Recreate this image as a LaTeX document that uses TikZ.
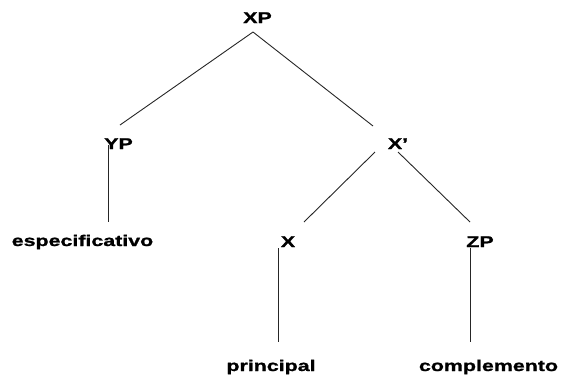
\documentclass[tikz,border=0pt]{standalone}
\usepackage{fontspec}
\setmainfont[FakeStretch=1.38,FakeBold=1.2]{Liberation Sans}
\begin{document}
\begin{tikzpicture}[x=1pt,y=-1pt,
  lbl/.style={inner sep=0pt,anchor=base,font=\fontsize{15.5}{17}\selectfont\bfseries},
  edge/.style={line width=0.9pt,black!85}]
\useasboundingbox (0,0) rectangle (561,376);
% labels
\node[lbl] (XP) at (257.5,23) {XP};
\node[lbl] (YP) at (118.5,149) {YP};
\node[lbl] (Xbar) at (398,149) {X'};
\node[lbl] (X) at (288,247) {X};
\node[lbl] (ZP) at (480,247) {ZP};
\node[lbl] (spec) at (82.5,246) {especificativo};
\node[lbl] (head) at (271,371) {principal};
\node[lbl] (comp) at (488.5,371) {complemento};
% connector end points
\coordinate (XPb) at (253,32);
\coordinate (YPt) at (120,125);
\coordinate (YPb) at (108,145);
\coordinate (specT) at (108,222);
\coordinate (XbarT) at (373,126);
\coordinate (XbarL) at (375,152);
\coordinate (XbarR) at (398,152);
\coordinate (XT) at (304,222);
\coordinate (ZPT) at (470,222);
\coordinate (XB) at (278,248);
\coordinate (headT) at (278,342);
\coordinate (ZPB) at (470,248);
\coordinate (compT) at (470,342);
% connectors
\draw[edge] (XPb) -- (YPt);
\draw[edge] (XPb) -- (XbarT);
\draw[edge] (YPb) -- (specT);
\draw[edge] (XbarL) -- (XT);
\draw[edge] (XbarR) -- (ZPT);
\draw[edge] (XB) -- (headT);
\draw[edge] (ZPB) -- (compT);
\end{tikzpicture}
\end{document}
